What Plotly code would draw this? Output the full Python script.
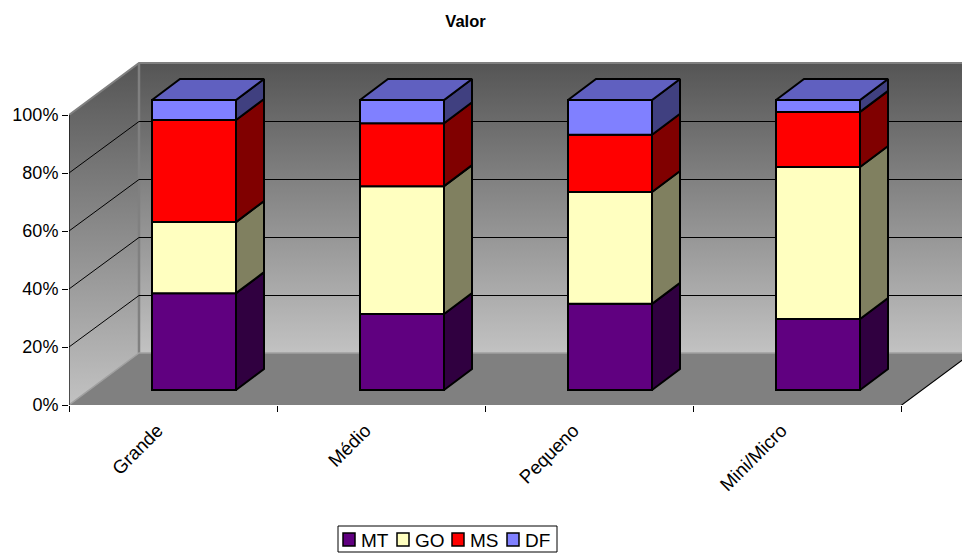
import plotly.graph_objects as go

# --- data (percent share of each category) ---
categories = ["Grande", "Médio", "Pequeno", "Mini/Micro"]
MT = [33.4, 26.2, 29.7, 24.5]
GO = [24.5, 44.1, 38.6, 52.4]
MS = [35.2, 21.7, 19.7, 19.0]
DF = [6.9, 8.0, 12.0, 4.1]
y_ticks = [0, 20, 40, 60, 80, 100]
y_labels = ["0%", "20%", "40%", "60%", "80%", "100%"]
series = [("MT", MT, "#600080", "#300040"),
          ("GO", GO, "#FFFFC0", "#808060"),
          ("MS", MS, "#FF0000", "#800000"),
          ("DF", DF, "#8080FF", "#404080")]
TOP_COLOR = "#6060C0"

# --- layout geometry (pixels) ---
W, H = 962, 553
L, T, B = 69, 55, 148
PX_X = 208.0   # px per category
PX_Y = 2.9     # px per percent
to_x = lambda px: px / PX_X
to_y = lambda px: px / PX_Y
WALL_DX, WALL_DY = to_x(70), to_y(52)
BAR_W = to_x(84)
BAR_OFF_X, BAR_OFF_Y = to_x(21), to_y(15)
BAR_DX, BAR_DY = to_x(28), to_y(21)
X_MAX = to_x(W - L)
Y_MAX = to_y(H - T - B)
HALF = to_y(0.5)   # keeps 1px lines on a whole pixel row
N = len(categories)
paper_x = lambda px: (px - L) / (W - L)
paper_y = lambda py: (H - B - py) / (H - T - B)

fig = go.Figure()

def poly(xs, ys, fill=None, line=None, lw=0, axes=("x", "y"), gradient=None, clip=True):
    kw = {}
    if fill is not None or gradient is not None:
        kw["fill"] = "toself"
        if gradient is not None:
            kw["fillgradient"] = gradient
        else:
            kw["fillcolor"] = fill
    fig.add_trace(go.Scatter(
        x=xs, y=ys, mode="lines", xaxis=axes[0], yaxis=axes[1],
        line=dict(color=line or "rgba(0,0,0,0)", width=lw),
        hoverinfo="skip", showlegend=False, cliponaxis=clip, **kw))

def grad(lo, hi):
    return dict(type="vertical", start=lo, stop=hi,
                colorscale=[[0, "#C2C2C2"], [1, "#555555"]])

# walls
poly([0, WALL_DX, WALL_DX, 0, 0], [0, WALL_DY, 100 + WALL_DY, 100, 0],
     gradient=grad(0, 100 + WALL_DY))
poly([WALL_DX, 5, 5, WALL_DX, WALL_DX],
     [WALL_DY, WALL_DY, 100 + WALL_DY, 100 + WALL_DY, WALL_DY],
     gradient=grad(WALL_DY, 100 + WALL_DY))
# floor
poly([0, N, N + WALL_DX, WALL_DX, 0], [0, 0, WALL_DY, WALL_DY, 0], fill="#808080")
# wall edges
poly([WALL_DX, WALL_DX], [WALL_DY, 100 + WALL_DY], line="#808080", lw=2.5)
poly([0, WALL_DX, 5], [100, 100 + WALL_DY, 100 + WALL_DY], line="#808080", lw=2)
poly([0, WALL_DX, 5], [0, WALL_DY, WALL_DY], line="#A0A0A0", lw=1.5)
# gridlines
for v in y_ticks[1:-1]:
    poly([0, WALL_DX, 5], [v, v + WALL_DY - HALF, v + WALL_DY - HALF], line="#000000", lw=1)
# axis lines
poly([0, 0], [0, 100], line="#000000", lw=1.2, clip=False)
poly([0, N, N + WALL_DX], [-HALF, -HALF, WALL_DY - HALF], line="#000000", lw=1.2, clip=False)

# stacked bars, front faces
bases = [BAR_OFF_Y] * N
stack = []
for name, vals, color, side in series:
    fig.add_trace(go.Bar(
        name=name, x=[i + 0.5 + BAR_OFF_X for i in range(N)], y=vals, base=bases,
        width=BAR_W, xaxis="x2", yaxis="y2", showlegend=False,
        marker=dict(color=color, line=dict(color="#000000", width=2)),
        hovertemplate=name + ": %{y}%<extra></extra>"))
    stack.append((bases, vals, side))
    bases = [b + v for b, v in zip(bases, vals)]

# side faces and top of the stack
over = ("x2", "y2")
for lows, vals, side in stack:
    for i in range(N):
        xr = i + 0.5 + BAR_OFF_X + BAR_W / 2
        y0, y1 = lows[i], lows[i] + vals[i]
        poly([xr, xr + BAR_DX, xr + BAR_DX, xr, xr],
             [y0, y0 + BAR_DY, y1 + BAR_DY, y1, y0],
             fill=side, line="#000000", lw=2, axes=over)
for i in range(N):
    xl = i + 0.5 + BAR_OFF_X - BAR_W / 2
    xr = xl + BAR_W
    y = bases[i]
    poly([xl, xr, xr + BAR_DX, xl + BAR_DX, xl],
         [y, y, y + BAR_DY, y + BAR_DY, y],
         fill=TOP_COLOR, line="#000000", lw=2, axes=over)

FONT = "Liberation Sans, Arial, sans-serif"
fig.update_layout(
    width=W, height=H, margin=dict(l=L, r=0, t=T, b=B, pad=0),
    paper_bgcolor="#FFFFFF", plot_bgcolor="#FFFFFF",
    showlegend=False, barmode="overlay",
    font=dict(family=FONT, size=18, color="#000000"),
    title=dict(text="<b>Valor</b>", x=465.5 / W, xanchor="center", y=1 - 21 / H, yanchor="middle",
               font=dict(family="Liberation Sans Narrow, Liberation Sans, sans-serif", size=16.5)),
    xaxis=dict(range=[0, X_MAX], tickmode="array",
               tickvals=[i + 0.425 for i in range(N)], ticktext=categories,
               tickangle=-45, ticks="", showgrid=False, zeroline=False, showline=False,
               ticklabelstandoff=10,
               minor=dict(ticks="outside", tick0=0, dtick=1, ticklen=6, tickwidth=1,
                          tickcolor="#000000", showgrid=False),
               tickfont=dict(size=18.7)),
    yaxis=dict(range=[0, Y_MAX], tickmode="array", tickvals=y_ticks, ticktext=y_labels,
               ticks="outside", ticklen=6, tickwidth=1, tickcolor="#000000",
               showgrid=False, zeroline=False, showline=False, tickfont=dict(size=18)),
    xaxis2=dict(overlaying="x", matches="x", visible=False),
    yaxis2=dict(overlaying="y", matches="y", visible=False),
)

# hand-drawn legend: Excel's compact swatch spacing
shapes = [dict(type="rect", xref="paper", yref="paper",
               x0=paper_x(338), x1=paper_x(557), y0=paper_y(526), y1=paper_y(552),
               fillcolor="#FFFFFF", line=dict(color="#000000", width=1))]
annos = []
for (name, vals, color, side), sx in zip(series, [343, 397, 452, 507]):
    shapes.append(dict(type="rect", xref="paper", yref="paper",
                       x0=paper_x(sx), x1=paper_x(sx + 12), y0=paper_y(533), y1=paper_y(546),
                       fillcolor=color, line=dict(color="#000000", width=1.5)))
    annos.append(dict(text=name, xref="paper", yref="paper", x=paper_x(sx + 18), y=paper_y(540),
                      xanchor="left", yanchor="middle", showarrow=False,
                      xshift=-2, font=dict(size=19)))
fig.update_layout(shapes=shapes, annotations=annos)

fig.write_html("out.html", config={"displayModeBar": False},
               post_script="document.body.style.margin='0';")
